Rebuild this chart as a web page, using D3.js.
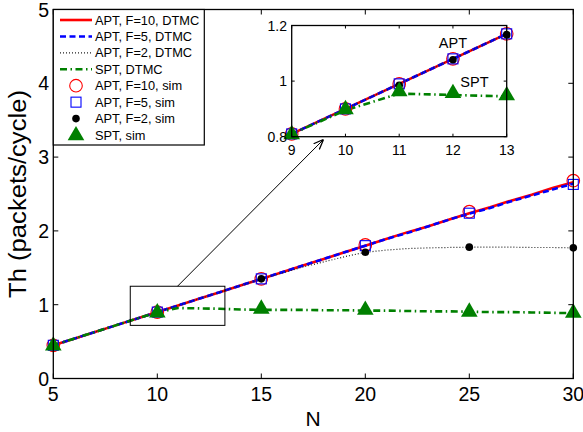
<!DOCTYPE html>
<html>
<head>
<meta charset="utf-8">
<script src="https://cdn.jsdelivr.net/npm/d3@7"></script>
<style>
    body { margin: 0; background: #fff; }
    svg { display: block; font-family: "Liberation Sans", Arial, sans-serif; }
</style>
</head>
<body>
<script>
// DTMC curves, one value per N (5..30)
const N_DTMC = [5, 6, 7, 8, 9, 10, 11, 12, 13, 14, 15, 16, 17, 18, 19, 20, 21, 22, 23, 24, 25, 26, 27, 28, 29, 30];
const APT_F10_DTMC = [0.45, 0.54, 0.63, 0.72, 0.81, 0.90, 0.99, 1.08, 1.17, 1.26, 1.35, 1.44, 1.53, 1.62, 1.71, 1.80, 1.89, 1.98, 2.06, 2.15, 2.24, 2.32, 2.41, 2.49, 2.58, 2.66];
const APT_F5_DTMC = [0.45, 0.54, 0.63, 0.72, 0.81, 0.90, 0.99, 1.08, 1.17, 1.26, 1.35, 1.44, 1.53, 1.62, 1.71, 1.80, 1.89, 1.97, 2.06, 2.15, 2.235, 2.31, 2.40, 2.48, 2.56, 2.64];
const APT_F2_DTMC = [0.45, 0.54, 0.63, 0.72, 0.81, 0.90, 0.99, 1.08, 1.17, 1.26, 1.35, 1.43, 1.51, 1.58, 1.65, 1.71, 1.74, 1.76, 1.77, 1.775, 1.78, 1.78, 1.78, 1.775, 1.775, 1.77];
const SPT_DTMC = [0.45, 0.54, 0.63, 0.72, 0.81, 0.895, 0.955, 0.95, 0.945, 0.935, 0.93, 0.93, 0.93, 0.925, 0.925, 0.92, 0.92, 0.915, 0.91, 0.91, 0.905, 0.90, 0.90, 0.895, 0.89, 0.885];

// simulation points in the main plot
const N_SIM = [5, 10, 15, 20, 25, 30];
const APT_F10_SIM = [0.45, 0.90, 1.35, 1.81, 2.26, 2.68];
const APT_F5_SIM = [0.45, 0.90, 1.35, 1.80, 2.24, 2.63];
const APT_F2_SIM = [0.45, 0.90, 1.35, 1.71, 1.78, 1.77];
const SPT_SIM = [0.45, 0.90, 0.95, 0.935, 0.91, 0.895];

// simulation points in the zoomed inset
const N_INSET = [9, 10, 11, 12, 13];
const APT_F10_INSET = [0.81, 0.90, 0.99, 1.08, 1.17];
const APT_F5_INSET = [0.81, 0.90, 0.99, 1.08, 1.17];
const APT_F2_INSET = [0.81, 0.90, 0.985, 1.077, 1.167];
const SPT_INSET = [0.81, 0.90, 0.965, 0.958, 0.95];

const X_TICKS = [5, 10, 15, 20, 25, 30];
const Y_TICKS = [0, 1, 2, 3, 4, 5];
const INSET_X_TICKS = [9, 10, 11, 12, 13];
const INSET_Y_TICKS = [0.8, 1, 1.2];
const ZOOM_BOX = { x: [8.7, 13.25], y: [0.72, 1.25] };

const LEGEND = [
    { label: "APT, F=10, DTMC", kind: "line", style: "f10" },
    { label: "APT, F=5, DTMC", kind: "line", style: "f5" },
    { label: "APT, F=2, DTMC", kind: "line", style: "f2" },
    { label: "SPT, DTMC", kind: "line", style: "spt" },
    { label: "APT, F=10, sim", kind: "marker", style: "f10" },
    { label: "APT, F=5, sim", kind: "marker", style: "f5" },
    { label: "APT, F=2, sim", kind: "marker", style: "f2" },
    { label: "SPT, sim", kind: "marker", style: "spt" }
];

const LINE_STYLES = {
    f10: { stroke: "#ff0000", width: 2.6, dash: null },
    f5: { stroke: "#0000ff", width: 2.6, dash: "6,3.5" },
    f2: { stroke: "#222", width: 1.2, dash: "1,2" },
    spt: { stroke: "#008000", width: 2.6, dash: "7,3.5,1.5,3.5" }
};

const width = 583, height = 432;
const svg = d3.select("body").append("svg").attr("width", width).attr("height", height);

const x = d3.scaleLinear().domain([5, 30]).range([53.3, 573.3]);
const y = d3.scaleLinear().domain([0, 5]).range([378.5, 9.5]);

const drawMarker = (g, style, cx, cy) => {
    if (style === "f10") {
        g.append("circle").attr("cx", cx).attr("cy", cy).attr("r", 6.3)
            .attr("fill", "none").attr("stroke", "#ff0000").attr("stroke-width", 1.1);
    } else if (style === "f5") {
        g.append("rect").attr("x", cx - 5).attr("y", cy - 5).attr("width", 10).attr("height", 10)
            .attr("fill", "none").attr("stroke", "#0000ff").attr("stroke-width", 1.1);
    } else if (style === "f2") {
        g.append("circle").attr("cx", cx).attr("cy", cy).attr("r", 3.8).attr("fill", "#000");
    } else {
        g.append("path").attr("d", d3.symbol(d3.symbolTriangle, 120)())
            .attr("transform", `translate(${cx},${cy + 0.5})`).attr("fill", "#008000");
    }
};

const drawPlot = (g, xs, ys, nMin, nMax, simN, sims) => {
    const curves = [["f10", APT_F10_DTMC], ["f5", APT_F5_DTMC], ["f2", APT_F2_DTMC], ["spt", SPT_DTMC]];
    curves.forEach(([style, vals]) => {
        const pts = N_DTMC.map((n, i) => [n, vals[i]]).filter(p => p[0] >= nMin && p[0] <= nMax);
        const s = LINE_STYLES[style];
        g.append("path")
            .attr("d", d3.line().x(d => xs(d[0])).y(d => ys(d[1]))(pts))
            .attr("fill", "none")
            .attr("stroke", s.stroke)
            .attr("stroke-width", s.width)
            .attr("stroke-dasharray", s.dash);
    });
    ["f10", "f5", "f2", "spt"].forEach((style, k) => {
        simN.forEach((n, i) => drawMarker(g, style, xs(n), ys(sims[k][i])));
    });
};

const drawFrame = (g, xs, ys, xTicks, yTicks, tickLen) => {
    const [x0, x1] = xs.range();
    const [y0, y1] = ys.range();
    g.append("rect").attr("x", x0).attr("y", y1).attr("width", x1 - x0).attr("height", y0 - y1)
        .attr("fill", "none").attr("stroke", "#000").attr("stroke-width", 1.3);
    xTicks.forEach(t => {
        g.append("line").attr("x1", xs(t)).attr("x2", xs(t)).attr("y1", y0).attr("y2", y0 - tickLen).attr("stroke", "#000");
        g.append("line").attr("x1", xs(t)).attr("x2", xs(t)).attr("y1", y1).attr("y2", y1 + tickLen).attr("stroke", "#000");
    });
    yTicks.forEach(t => {
        g.append("line").attr("x1", x0).attr("x2", x0 + tickLen).attr("y1", ys(t)).attr("y2", ys(t)).attr("stroke", "#000");
        g.append("line").attr("x1", x1).attr("x2", x1 - tickLen).attr("y1", ys(t)).attr("y2", ys(t)).attr("stroke", "#000");
    });
};

// main plot
const main = svg.append("g");
drawPlot(main, x, y, 5, 30, N_SIM, [APT_F10_SIM, APT_F5_SIM, APT_F2_SIM, SPT_SIM]);
drawFrame(main, x, y, X_TICKS, Y_TICKS, 5);

main.selectAll(".xt").data(X_TICKS).enter().append("text")
    .attr("x", d => x(d)).attr("y", 401).attr("text-anchor", "middle")
    .attr("font-size", 19.5).text(d => d);
main.selectAll(".yt").data(Y_TICKS).enter().append("text")
    .attr("x", 49).attr("y", d => y(d) + 7).attr("text-anchor", "end")
    .attr("font-size", 19.5).text(d => d);
main.append("text").attr("x", 313).attr("y", 426).attr("text-anchor", "middle")
    .attr("font-size", 21).text("N");
main.append("text")
    .attr("transform", `translate(26,${(y(0) + y(5)) / 2}) rotate(-90)`)
    .attr("text-anchor", "middle").attr("font-size", 23)
    .attr("textLength", 208).attr("lengthAdjust", "spacingAndGlyphs")
    .text("Th (packets/cycle)");

// zoom rectangle and arrow
main.append("rect")
    .attr("x", x(ZOOM_BOX.x[0])).attr("y", y(ZOOM_BOX.y[1]))
    .attr("width", x(ZOOM_BOX.x[1]) - x(ZOOM_BOX.x[0]))
    .attr("height", y(ZOOM_BOX.y[0]) - y(ZOOM_BOX.y[1]))
    .attr("fill", "none").attr("stroke", "#000").attr("stroke-width", 1);

svg.append("defs").append("marker")
    .attr("id", "arrow").attr("viewBox", "0 0 10 10").attr("refX", 10).attr("refY", 5)
    .attr("markerWidth", 10).attr("markerHeight", 10).attr("markerUnits", "userSpaceOnUse")
    .attr("orient", "auto")
    .append("path").attr("d", "M0,1 L10,5 L0,9").attr("fill", "none").attr("stroke", "#000").attr("stroke-width", 1.3);

main.append("line")
    .attr("x1", 177.5).attr("y1", y(ZOOM_BOX.y[1]))
    .attr("x2", 323.5).attr("y2", 139.5)
    .attr("stroke", "#000").attr("stroke-width", 1)
    .attr("marker-end", "url(#arrow)");

// inset
const xi = d3.scaleLinear().domain([9, 13]).range([291.7, 506.7]);
const yi = d3.scaleLinear().domain([0.8, 1.2]).range([136.7, 25.5]);
const inset = svg.append("g");
inset.append("rect").attr("x", 291.7).attr("y", 25.5).attr("width", 215).attr("height", 111.2).attr("fill", "#fff");
drawPlot(inset, xi, yi, 9, 13, N_INSET, [APT_F10_INSET, APT_F5_INSET, APT_F2_INSET, SPT_INSET]);
drawFrame(inset, xi, yi, INSET_X_TICKS, INSET_Y_TICKS, 3);
inset.selectAll(".xt").data(INSET_X_TICKS).enter().append("text")
    .attr("x", d => xi(d)).attr("y", 155).attr("text-anchor", "middle")
    .attr("font-size", 14).text(d => d);
inset.selectAll(".yt").data(INSET_Y_TICKS).enter().append("text")
    .attr("x", 287).attr("y", d => yi(d) + 5).attr("text-anchor", "end")
    .attr("font-size", 14).text(d => d);
inset.append("text").attr("x", xi(12)).attr("y", 47.5).attr("text-anchor", "middle")
    .attr("font-size", 14.5).text("APT");
inset.append("text").attr("x", xi(12.4)).attr("y", 87).attr("text-anchor", "middle")
    .attr("font-size", 14.5).text("SPT");

// legend
const legend = svg.append("g");
legend.append("rect").attr("x", 53.3).attr("y", 9.5).attr("width", 151).attr("height", 135.5)
    .attr("fill", "#fff").attr("stroke", "#000").attr("stroke-width", 1.2);
LEGEND.forEach((item, i) => {
    const cy = 20 + i * 16.43;
    if (item.kind === "line") {
        const s = LINE_STYLES[item.style];
        legend.append("line").attr("x1", 60).attr("x2", 92).attr("y1", cy).attr("y2", cy)
            .attr("stroke", s.stroke).attr("stroke-width", s.width).attr("stroke-dasharray", s.dash);
    } else {
        drawMarker(legend, item.style, 76, cy);
    }
    legend.append("text").attr("x", 95).attr("y", cy + 4.5).attr("font-size", 12.8).text(item.label);
});
</script>
</body>
</html>
